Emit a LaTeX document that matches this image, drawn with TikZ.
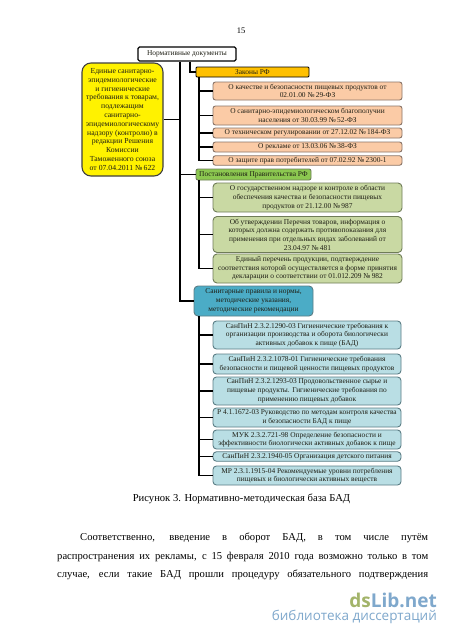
\documentclass[tikz,border=0pt]{standalone}
\usepackage{fontspec}
\setmainfont{Liberation Serif}
\newfontfamily\wmfont{Open Sans}
\definecolor{peachfill}{HTML}{FBCBA6}
\definecolor{peachline}{HTML}{8A7568}
\definecolor{greenfill}{HTML}{C9D9A3}
\definecolor{greenline}{HTML}{6F7C58}
\definecolor{bluefill}{HTML}{B9DEE4}
\definecolor{blueline}{HTML}{5B7D85}
\definecolor{bluehead}{HTML}{4BACC6}
\definecolor{greenhead}{HTML}{8CC850}
\definecolor{lawfill}{HTML}{FFC000}
\definecolor{txt}{HTML}{1E1E14}
\definecolor{wmgreen}{HTML}{A3B46A}
\definecolor{wmblue}{HTML}{7FA8CC}
\tikzset{
  x=1pt,y=-1pt,
  boxbase/.style={inner sep=0pt,align=center,text=txt,font=\fontsize{7.4}{8.7}\selectfont,anchor=center},
  rootbox/.style={boxbase,draw=black,line width=1.1pt,fill=white,rounded corners=1.5pt},
  yellowbox/.style={boxbase,draw=black!75,line width=1.1pt,fill=yellow,rounded corners=9pt,font=\fontsize{7.7}{8.8}\selectfont},
  lawhead/.style={boxbase,draw=black,line width=.9pt,fill=lawfill,rounded corners=1pt},
  peachbox/.style={boxbase,draw=peachline,line width=.9pt,fill=peachfill,rounded corners=2.5pt},
  greenhd/.style={boxbase,draw=greenline,line width=.9pt,fill=greenhead,rounded corners=2pt},
  greenbox/.style={boxbase,draw=greenline,line width=.9pt,fill=greenfill,rounded corners=4pt},
  bluehd/.style={boxbase,draw=blueline,line width=.9pt,fill=bluehead,rounded corners=4pt},
  bluebox/.style={boxbase,draw=blueline,line width=.9pt,fill=bluefill,rounded corners=3.5pt},
  conn/.style={draw=black,line width=1.2pt},
  pagetext/.style={inner sep=0pt,text=black,font=\fontsize{10.6}{13}\selectfont},
}
\begin{document}
\begin{tikzpicture}
\useasboundingbox (0,0) rectangle (450,637);
\fill[white] (0,0) rectangle (450,637);
\node[pagetext,font=\fontsize{8.5}{10}\selectfont] (pnum) at (241,31) {15};

\coordinate (tr) at (180,0);
\coordinate (lawtr) at (199,0);
\coordinate (rootlaw) at (190,0);

\node[rootbox,minimum width=98pt,minimum height=14pt] (root) at (187,54) {Нормативные документы};
\node[yellowbox,minimum width=81pt,minimum height=113pt] (yel) at (122.5,119.5) {Единые санитарно-\\эпидемиологические\\и гигиенические\\требования к товарам,\\подлежащим\\санитарно-\\эпидемиологическому\\надзору (контролю) в\\редакции Решения\\Комиссии\\Таможенного союза\\от 07.04.2011 №\,622};

\node[lawhead,minimum width=113pt,minimum height=10pt] (law) at (252.5,72) {Законы РФ};
\node[peachbox,minimum width=189pt,minimum height=18pt] (p1) at (307.5,91) {О качестве и безопасности пищевых продуктов от\\02.01.00 №\,29-ФЗ};
\node[peachbox,minimum width=189pt,minimum height=19pt] (p2) at (307.5,115.5) {О санитарно-эпидемиологическом благополучии\\населения от 30.03.99 №\,52-ФЗ};
\node[peachbox,minimum width=189pt,minimum height=10pt] (p3) at (307.5,133) {О техническом регулировании от 27.12.02 №\,184-ФЗ};
\node[peachbox,minimum width=189pt,minimum height=10pt] (p4) at (307.5,147) {О рекламе от 13.03.06 №\,38-ФЗ};
\node[peachbox,minimum width=189pt,minimum height=9.5pt] (p5) at (307.5,160.5) {О защите прав потребителей от 07.02.92 №\,2300-1};

\node[greenhd,minimum width=115pt,minimum height=11pt] (ghead) at (253.5,174.5) {Постановления Правительства РФ};
\node[greenbox,minimum width=189pt,minimum height=29pt] (g1) at (307.5,197.5) {О государственном надзоре и контроле в области\\обеспечения качества и безопасности пищевых\\продуктов от 21.12.00 №\,987};
\node[greenbox,minimum width=189pt,minimum height=36pt] (g2) at (307.5,234.5) {Об утверждении Перечня товаров, информация о\\которых должна содержать противопоказания для\\применения при отдельных видах заболеваний от\\23.04.97 №\,481};
\node[greenbox,minimum width=189pt,minimum height=29pt] (g3) at (307.5,268.5) {Единый перечень продукции, подтверждение\\соответствия которой осуществляется в форме принятия\\декларации о соответствии от 01.012.209 №\,982};

\node[bluehd,minimum width=119pt,minimum height=30pt] (bhead) at (253.5,301) {Санитарные правила и нормы,\\методические указания,\\методические рекомендации};
\node[bluebox,minimum width=188pt,minimum height=28pt] (b1) at (307,335) {СанПиН 2.3.2.1290-03 Гигиенические требования к\\организации производства и оборота биологически\\активных добавок к пище (БАД)};
\node[bluebox,minimum width=188pt,minimum height=20pt] (b2) at (307,364) {СанПиН 2.3.2.1078-01 Гигиенические требования\\безопасности и пищевой ценности пищевых продуктов};
\node[bluebox,minimum width=188pt,minimum height=28pt] (b3) at (307,391) {СанПиН 2.3.2.1293-03 Продовольственное сырье и\\пищевые продукты. Гигиенические требования по\\применению пищевых добавок};
\node[bluebox,minimum width=188pt,minimum height=19pt] (b4) at (307,417.5) {Р 4.1.1672-03 Руководство по методам контроля качества\\и безопасности БАД к пище};
\node[bluebox,minimum width=188pt,minimum height=19pt] (b5) at (307,439.5) {МУК 2.3.2.721-98 Определение безопасности и\\эффективности биологически активных добавок к пище};
\node[bluebox,minimum width=188pt,minimum height=9.5pt] (b6) at (307,456.5) {СанПиН 2.3.2.1940-05 Организация детского питания};
\node[bluebox,minimum width=188pt,minimum height=19pt] (b7) at (307,475.5) {МР 2.3.1.1915-04 Рекомендуемые уровни потребления\\пищевых и биологически активных веществ};

% connectors
\draw[conn] (root.south -| tr) -- (bhead.west -| tr) -- (bhead.west);
\draw[conn] (yel.east) -- (yel.east -| tr);
\draw[conn] (ghead.west -| tr) -- (ghead.west);
\draw[conn] (root.south -| rootlaw) |- (law.west);
\draw[conn] (law.south -| lawtr) |- (p5.west);
\foreach \n in {p1,p2,p3,p4} \draw[conn] (\n.west -| lawtr) -- (\n.west);
\draw[conn] (ghead.south -| lawtr) |- (g3.west);
\foreach \n in {g1,g2} \draw[conn] (\n.west -| lawtr) -- (\n.west);
\draw[conn] (bhead.south -| lawtr) |- (b7.west);
\foreach \n in {b1,b2,b3,b4,b5,b6} \draw[conn] (\n.west -| lawtr) -- (\n.west);

% page text
\node[pagetext] (cap) at (241.5,499) {Рисунок 3. Нормативно-методическая база БАД};
\node[pagetext,anchor=west] (l1) at (80,538) {\makebox[348pt][s]{Соответственно, введение в оборот БАД, в том числе путём}};
\node[pagetext,anchor=west] (l2) at (57,556.5) {\makebox[371pt][s]{распространения их рекламы, с 15 февраля 2010 года возможно только в том}};
\node[pagetext,anchor=west] (l3) at (57,575) {\makebox[371pt][s]{случае, если такие БАД прошли процедуру обязательного подтверждения}};

% watermark
\node[inner sep=0pt,anchor=east,font=\wmfont\bfseries\fontsize{19}{20}\selectfont] (wm1) at (437,600) {\textcolor{wmgreen}{ds}\textcolor{wmblue}{Lib.net}};
\node[inner sep=0pt,anchor=east,font=\wmfont\fontsize{13.5}{15}\selectfont,text=wmblue] (wm2) at (437,617) {библиотека диссертаций};
\end{tikzpicture}
\end{document}
